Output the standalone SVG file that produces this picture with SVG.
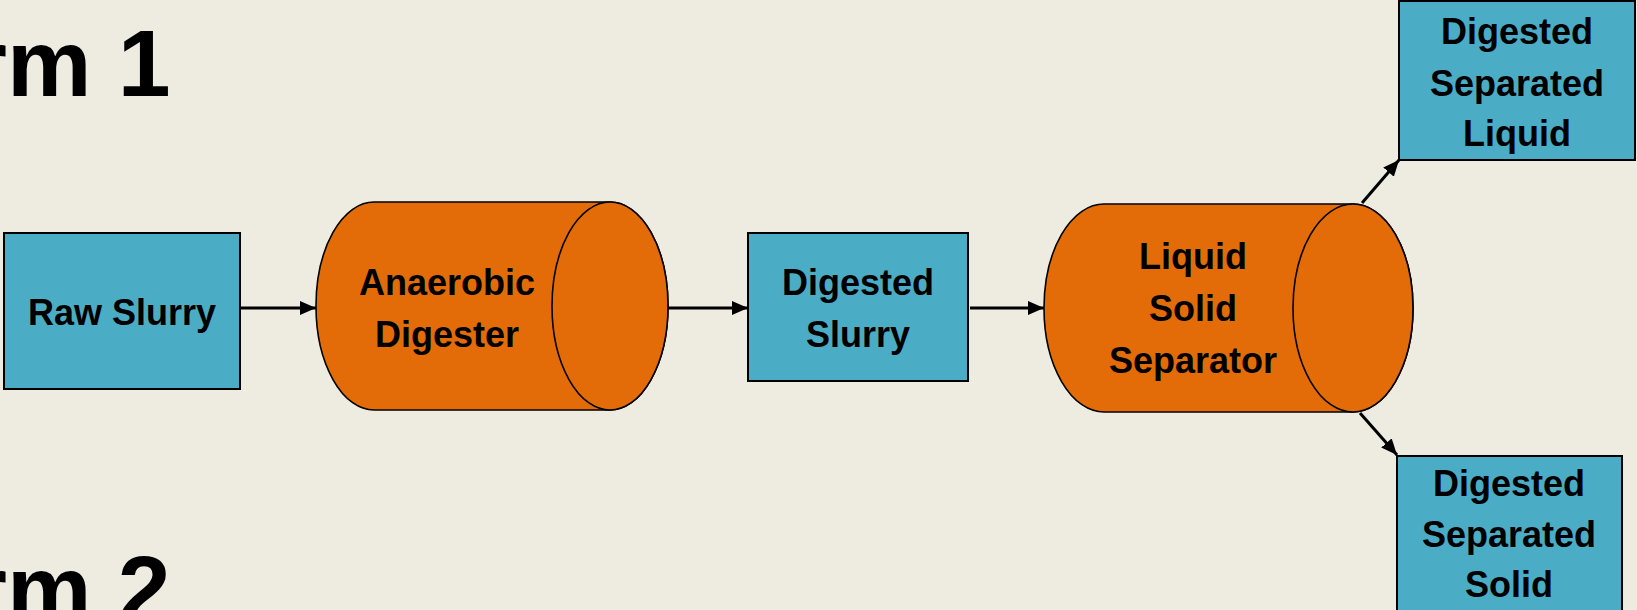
<svg xmlns="http://www.w3.org/2000/svg" width="1637" height="610" viewBox="0 0 1637 610">
<defs>
<style>
.box{fill:#4BACC6;stroke:#000;stroke-width:2}
.cyl{fill:#E36C09;stroke:#000;stroke-width:1.6}
.lbl{font-family:"Liberation Sans",Arial,sans-serif;font-weight:bold;font-size:36px;fill:#000;text-anchor:middle}
.title{font-family:"Liberation Sans",Arial,sans-serif;font-weight:bold;font-size:95px;fill:#000}
.conn{stroke:#000;stroke-width:3;fill:none;marker-end:url(#ah)}
</style>
<marker id="ah" markerUnits="userSpaceOnUse" markerWidth="18" markerHeight="16" refX="16" refY="7" orient="auto">
<path d="M0,0 L16,7 L0,14 Z" fill="#000"/>
</marker>
</defs>
<rect width="1637" height="610" fill="#EEEBE0"/>
<text class="title" x="-30" y="96">rm 1</text>
<text class="title" x="-30" y="622">rm 2</text>
<g id="connectors">
<line class="conn" x1="240" y1="308" x2="316" y2="308"/>
<line class="conn" x1="668" y1="308" x2="748" y2="308"/>
<line class="conn" x1="970" y1="308" x2="1044" y2="308"/>
<line class="conn" x1="1362" y1="203" x2="1399" y2="160"/>
<line class="conn" x1="1360" y1="413" x2="1397" y2="455"/>
</g>
<g id="raw-slurry">
<rect class="box" x="4" y="233" width="236" height="156"/>
<text class="lbl" x="122" y="325">Raw Slurry</text>
</g>
<g id="anaerobic-digester">
<path class="cyl" d="M374 202 L610 202 A58 104 0 0 1 610 410 L374 410 A58 104 0 0 1 374 202 Z"/>
<ellipse class="cyl" cx="610" cy="306" rx="58" ry="104"/>
<text class="lbl" x="447" y="295">Anaerobic</text>
<text class="lbl" x="447" y="347">Digester</text>
</g>
<g id="digested-slurry">
<rect class="box" x="748" y="233" width="220" height="148"/>
<text class="lbl" x="858" y="295">Digested</text>
<text class="lbl" x="858" y="347">Slurry</text>
</g>
<g id="liquid-solid-separator">
<path class="cyl" d="M1104 204 L1353 204 A60 104 0 0 1 1353 412 L1104 412 A60 104 0 0 1 1104 204 Z"/>
<ellipse class="cyl" cx="1353" cy="308" rx="60" ry="104"/>
<text class="lbl" x="1193" y="269">Liquid</text>
<text class="lbl" x="1193" y="321">Solid</text>
<text class="lbl" x="1193" y="373">Separator</text>
</g>
<g id="digested-separated-liquid">
<rect class="box" x="1399" y="1" width="236" height="159"/>
<text class="lbl" x="1517" y="44">Digested</text>
<text class="lbl" x="1517" y="96">Separated</text>
<text class="lbl" x="1517" y="146">Liquid</text>
</g>
<g id="digested-separated-solid">
<rect class="box" x="1397" y="456" width="225" height="160"/>
<text class="lbl" x="1509" y="496">Digested</text>
<text class="lbl" x="1509" y="547">Separated</text>
<text class="lbl" x="1509" y="597">Solid</text>
</g>
</svg>
